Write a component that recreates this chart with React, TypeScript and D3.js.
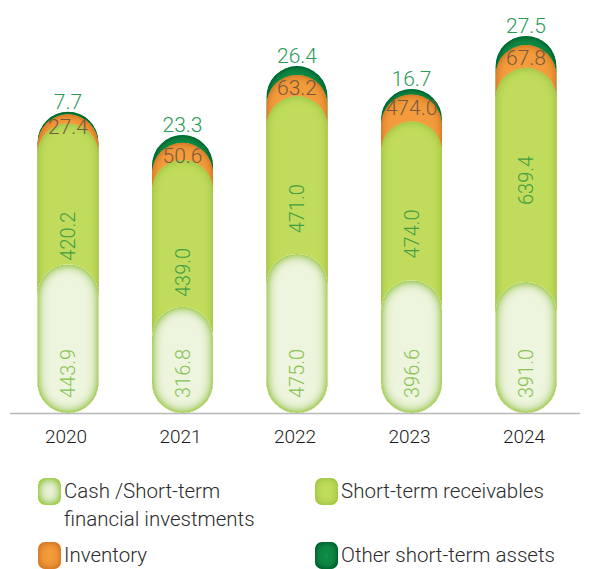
import React from 'react';
import * as d3 from 'd3';

const years = ['2020', '2021', '2022', '2023', '2024'];
const cash = [443.9, 316.8, 475.0, 396.6, 391.0];
const receivables = [420.2, 439.0, 471.0, 474.0, 639.4];
// 2023 inventory is printed as "474.0" but drawn at about the height of ~80
const inventory = [27.4, 50.6, 63.2, 80.0, 67.8];
const inventoryLabels = ['27.4', '50.6', '63.2', '474.0', '67.8'];
const other = [7.7, 23.3, 26.4, 16.7, 27.5];

const legendItems = [
  { key: 'cash', lines: ['Cash /Short-term', 'financial investments'] },
  { key: 'rec', lines: ['Short-term receivables'] },
  { key: 'inv', lines: ['Inventory'] },
  { key: 'oth', lines: ['Other short-term assets'] },
];

const W = 590;
const H = 569;
const baseY = 413;
const barW = 61;
const FONT = 'Roboto, "DejaVu Sans", sans-serif';

const layerStyle: Record<string, { fill: string; glow: string; sd: number; k: number }> = {
  oth: { fill: '#138c46', glow: '#045a2a', sd: 4, k: 1.6 },
  inv: { fill: '#f39b3c', glow: '#d2731e', sd: 4, k: 1.6 },
  rec: { fill: '#c1db5c', glow: '#9ec544', sd: 4, k: 1.6 },
  cash: { fill: '#eef5de', glow: '#a5cf55', sd: 6, k: 2.0 },
};

export default function App() {
  const x = d3.scalePoint<string>().domain(years).range([68, 526]);
  const y = d3.scaleLinear().domain([0, 1200]).range([baseY, baseY - 1200 * 0.335]);

  const pill = (cx: number, top: number, key: string) => (
    <rect
      key={key}
      x={cx - barW / 2}
      y={top}
      width={barW}
      height={baseY - top}
      rx={barW / 2}
      ry={barW / 2}
      fill={layerStyle[key].fill}
      filter={`url(#glow-${key})`}
    />
  );

  const fmt = d3.format('.1f');

  return (
    <svg width={W} height={H} style={{ position: 'absolute', left: 0, top: 0 }} fontFamily={FONT}>
      <defs>
        {Object.entries(layerStyle).map(([k, s]) => (
          <filter key={k} id={`glow-${k}`} x="-10%" y="-10%" width="120%" height="120%">
            <feGaussianBlur in="SourceAlpha" stdDeviation={s.sd} result="blur" />
            <feComposite in="SourceAlpha" in2="blur" operator="arithmetic" k2={s.k} k3={-s.k} result="inner" />
            <feFlood floodColor={s.glow} result="col" />
            <feComposite in="col" in2="inner" operator="in" result="glow" />
            <feMerge>
              <feMergeNode in="SourceGraphic" />
              <feMergeNode in="glow" />
            </feMerge>
          </filter>
        ))}
      </defs>

      <line x1={10} x2={580} y1={baseY + 0.5} y2={baseY + 0.5} stroke="#b8b8b8" strokeWidth={1.5} />

      {years.map((yr, i) => {
        const cx = x(yr) as number;
        const c1 = cash[i];
        const c2 = c1 + receivables[i];
        const c3 = c2 + inventory[i];
        const c4 = c3 + other[i];
        return (
          <g key={yr}>
            {pill(cx, y(c4), 'oth')}
            {pill(cx, y(c3), 'inv')}
            {pill(cx, y(c2), 'rec')}
            {pill(cx, y(c1), 'cash')}
            <text x={cx} y={y(c4) - 3} textAnchor="middle" fontSize={21} fontWeight={300} fill="#2a9a55">
              {fmt(other[i])}
            </text>
            <text x={cx} y={y(c3) + 20} textAnchor="middle" fontSize={21} fontWeight={300} fill="#7a5a3c">
              {inventoryLabels[i]}
            </text>
            <text
              transform={`translate(${cx},${y(c2) + 88}) rotate(-90)`}
              textAnchor="end"
              dy="0.36em"
              fontSize={20}
              fontWeight={300}
              fill="#3f9e45"
            >
              {fmt(receivables[i])}
            </text>
            <text
              transform={`translate(${cx},${baseY - 15}) rotate(-90)`}
              textAnchor="start"
              dy="0.36em"
              fontSize={20}
              fontWeight={300}
              fill="#86c24e"
            >
              {fmt(cash[i])}
            </text>
            <text x={cx - 2} y={443} textAnchor="middle" fontSize={19} fontWeight={300} fill="#1a1a1a">
              {yr}
            </text>
          </g>
        );
      })}

      {legendItems.map((item, i) => {
        const col = i % 2;
        const row = Math.floor(i / 2);
        const lx = col === 0 ? 38 : 315;
        const ly = row === 0 ? 478 : 542;
        const s = layerStyle[item.key];
        return (
          <g key={item.key}>
            <rect x={lx} y={ly} width={23} height={27} rx={7} fill={s.fill} filter={`url(#glow-${item.key})`} />
            {item.lines.map((ln, j) => (
              <text key={j} x={lx + 26} y={ly + 20 + j * 28} fontSize={20.5} fontWeight={300} fill="#2b2b2b">
                {ln}
              </text>
            ))}
          </g>
        );
      })}
    </svg>
  );
}
